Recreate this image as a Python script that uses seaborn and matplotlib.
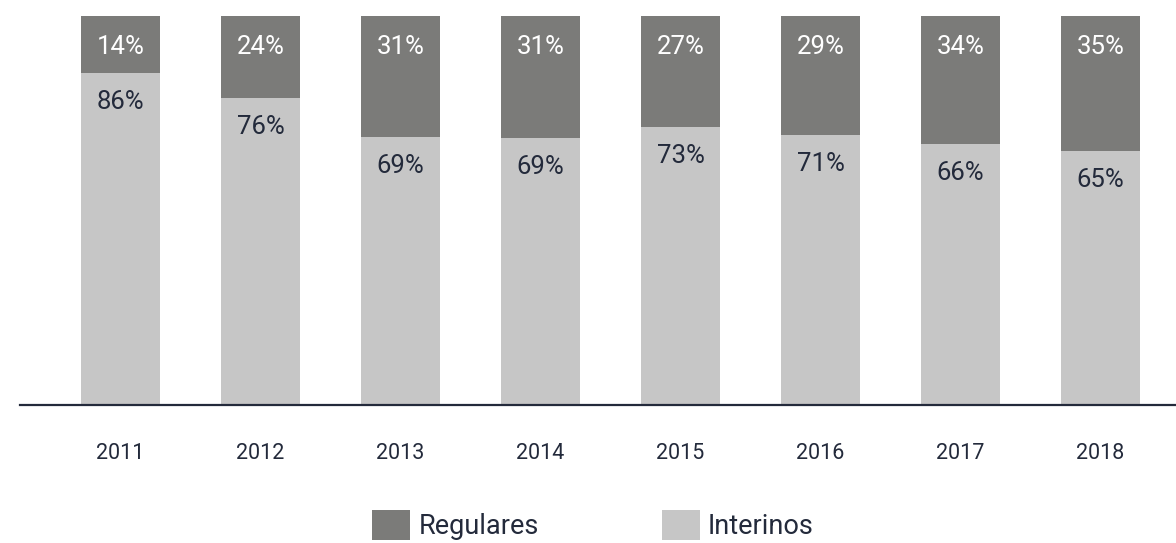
import matplotlib
matplotlib.use("Agg")
import matplotlib.pyplot as plt
import seaborn as sns
import pandas as pd
from matplotlib.patches import Patch

years = ["2011", "2012", "2013", "2014", "2015", "2016", "2017", "2018"]
# bar heights as drawn in the picture (percent of the full bar)
regulares = [14.7, 21.0, 31.0, 31.3, 28.5, 30.6, 32.9, 34.6]
interinos = [85.3, 79.0, 69.0, 68.7, 71.5, 69.4, 67.1, 65.4]
# printed labels
regulares_lbl = ["14%", "24%", "31%", "31%", "27%", "29%", "34%", "35%"]
interinos_lbl = ["86%", "76%", "69%", "69%", "73%", "71%", "66%", "65%"]

C_REG = "#7b7b79"
C_INT = "#c6c6c6"
C_TXT = "#232a3b"

sns.set_theme(style="white")
plt.rcParams["font.family"] = ["Roboto", "DejaVu Sans"]

df = pd.DataFrame({"year": years, "reg": regulares, "int": interinos})
df["total"] = df["reg"] + df["int"]

fig = plt.figure(figsize=(11.76, 5.43), dpi=100)
ax = fig.add_axes([20 / 1176, 0.254, 1156 / 1176, 0.7165])

sns.barplot(data=df, x="year", y="total", color=C_REG, width=0.565,
            saturation=1, ax=ax, edgecolor="none", linewidth=0)
sns.barplot(data=df, x="year", y="int", color=C_INT, width=0.565,
            saturation=1, ax=ax, edgecolor="none", linewidth=0)

ax.set_xlim(-100.5 / 140, (1156 - 100.5) / 140)
ax.set_ylim(0, 100)
ax.set_xlabel("")
ax.set_ylabel("")
ax.set_yticks([])
for s in ["top", "right", "left"]:
    ax.spines[s].set_visible(False)
ax.spines["bottom"].set_color(C_TXT)
ax.spines["bottom"].set_linewidth(1.6)
ax.tick_params(axis="x", length=0, pad=27, labelsize=15.5, labelcolor=C_TXT)

for i, (rl, il, it, t) in enumerate(zip(regulares_lbl, interinos_lbl,
                                         df["int"], df["total"])):
    ax.annotate(rl, xy=(i, t), xytext=(0, -22.5), textcoords="offset points",
                ha="center", va="center", fontsize=18.5, color="white")
    ax.annotate(il, xy=(i, it), xytext=(0, -21), textcoords="offset points",
                ha="center", va="center", fontsize=18.5, color=C_TXT)

handles = [Patch(facecolor=C_REG, edgecolor="none", label="Regulares"),
           Patch(facecolor=C_INT, edgecolor="none", label="Interinos")]
leg = fig.legend(handles=handles, loc="center", ncol=2, frameon=False,
                 bbox_to_anchor=(593 / 1176, 1 - 525 / 543),
                 fontsize=19.5, handlelength=1.4, handleheight=1.3,
                 handletextpad=0.3, columnspacing=4.55)
for txt in leg.get_texts():
    txt.set_color(C_TXT)

fig.savefig("out.png", dpi=100)
